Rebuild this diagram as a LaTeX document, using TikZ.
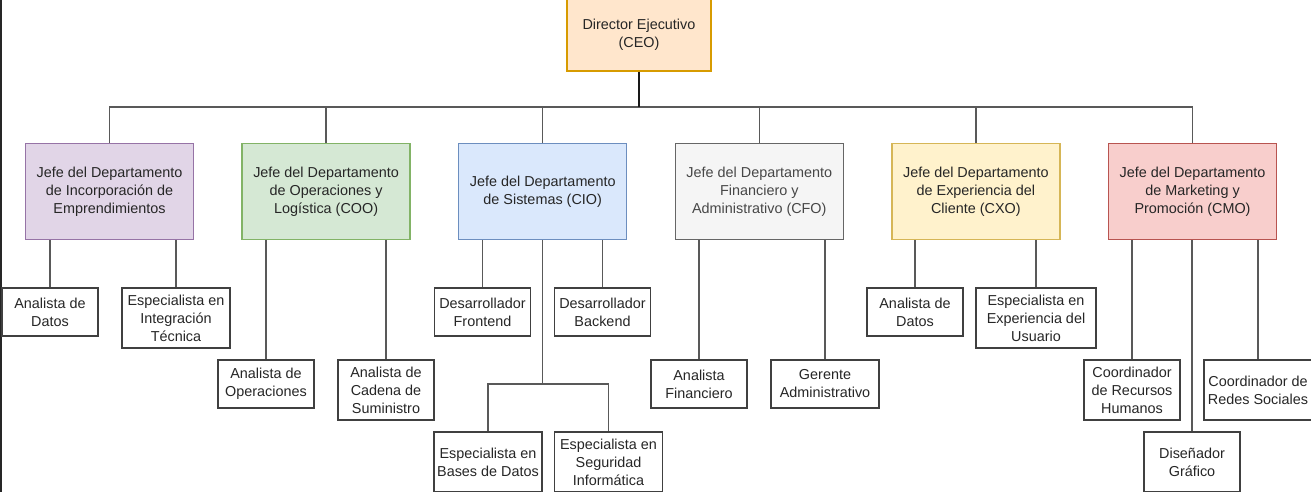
\documentclass[tikz,border=0pt]{standalone}
\usepackage{fontspec}
\setmainfont{Liberation Sans}
\definecolor{ceofill}{HTML}{FFE6CC}
\definecolor{ceoline}{HTML}{D79B00}
\definecolor{purplefill}{HTML}{E1D5E7}
\definecolor{purpleline}{HTML}{9673A6}
\definecolor{greenfill}{HTML}{D5E8D4}
\definecolor{greenline}{HTML}{82B366}
\definecolor{bluefill}{HTML}{DAE8FC}
\definecolor{blueline}{HTML}{6C8EBF}
\definecolor{greyfill}{HTML}{F5F5F5}
\definecolor{greyline}{HTML}{666666}
\definecolor{yellowfill}{HTML}{FFF2CC}
\definecolor{yellowline}{HTML}{D6B656}
\definecolor{redfill}{HTML}{F8CECC}
\definecolor{redline}{HTML}{B85450}
\begin{document}
\begin{tikzpicture}[
  x = 1pt, y = -1pt,
  box/.style    = {rectangle, draw, line width = 1.3pt, align = center, inner sep = 2pt, text = black!85, font = \fontsize{14.4}{18}\selectfont},
  jefe/.style   = {box, minimum width = 168pt, minimum height = 96pt},
  puesto/.style = {box, draw = black!75, fill = white, minimum width = 96pt, minimum height = 48pt},
  link/.style   = {draw = black!65, line width = 1.3pt}
]
  \useasboundingbox (0, 0) rectangle (1311, 492);
  \draw[black!85, line width = 1.5pt] (0.75, 0) -- (0.75, 492);

  \node[jefe, fill = ceofill, draw = ceoline, minimum width = 144pt, minimum height = 72pt] (ceo) at (639, 35) {Director Ejecutivo\\(CEO)};

  \node[jefe, fill = purplefill, draw = purpleline] (emp) at (109.5, 191.5) {Jefe del Departamento\\de Incorporación de\\Emprendimientos};
  \node[jefe, fill = greenfill,  draw = greenline]  (coo) at (326.1, 191.5) {Jefe del Departamento\\de Operaciones y\\Logística (COO)};
  \node[jefe, fill = bluefill,   draw = blueline]   (cio) at (542.7, 191.5) {Jefe del Departamento\\de Sistemas (CIO)};
  \node[jefe, fill = greyfill,   draw = greyline, text = black!72] (cfo) at (759.3, 191.5) {Jefe del Departamento\\Financiero y\\Administrativo (CFO)};
  \node[jefe, fill = yellowfill, draw = yellowline] (cxo) at (975.9, 191.5) {Jefe del Departamento\\de Experiencia del\\Cliente (CXO)};
  \node[jefe, fill = redfill,    draw = redline]    (cmo) at (1192.5, 191.5) {Jefe del Departamento\\de Marketing y\\Promoción (CMO)};

  \node[puesto]                                               (datos1)  at (50,    312) {Analista de\\Datos};
  \node[puesto, minimum width = 108pt, minimum height = 60pt] (integ)   at (176,   318) {Especialista en\\Integración\\Técnica};
  \node[puesto]                                               (oper)    at (266,   384) {Analista de\\Operaciones};
  \node[puesto, minimum height = 60pt]                        (cadena)  at (386,   390) {Analista de\\Cadena de\\Suministro};
  \node[puesto]                                               (front)   at (482.5, 312) {Desarrollador\\Frontend};
  \node[puesto]                                               (back)    at (602.5, 312) {Desarrollador\\Backend};
  \node[puesto, minimum width = 108pt, minimum height = 60pt] (bases)   at (488,   462) {Especialista en\\Bases de Datos};
  \node[puesto, minimum width = 108pt, minimum height = 60pt] (segur)   at (608.5, 462) {Especialista en\\Seguridad\\Informática};
  \node[puesto]                                               (finan)   at (699,   384) {Analista\\Financiero};
  \node[puesto, minimum width = 108pt]                        (gerente) at (825,   384) {Gerente\\Administrativo};
  \node[puesto]                                               (datos2)  at (915,   312) {Analista de\\Datos};
  \node[puesto, minimum width = 120pt, minimum height = 60pt] (ux)      at (1036,  318) {Especialista en\\Experiencia del\\Usuario};
  \node[puesto, minimum height = 60pt]                        (rrhh)    at (1132,  390) {Coordinador\\de Recursos\\Humanos};
  \node[puesto, minimum height = 60pt]                        (disenio) at (1192,  462) {Diseñador\\Gráfico};
  \node[puesto, minimum width = 108pt, minimum height = 60pt] (redes)   at (1258,  390) {Coordinador de\\Redes Sociales};

  \coordinate (bus) at (639, 107);
  \draw[link] (emp.north) |- (bus) -| (cmo.north);
  \foreach \j in {coo, cio, cfo, cxo}
    \draw[link] (\j.north) -- (\j.north |- bus);
  \draw[link, draw = black!90, line width = 1.6pt] (ceo.south) -- (bus);

  \foreach \p/\c in {emp/datos1, emp/integ, coo/oper, coo/cadena, cio/front, cio/back, cfo/finan, cfo/gerente, cxo/datos2, cxo/ux, cmo/rrhh, cmo/disenio, cmo/redes}
    \draw[link] (\p.south -| \c.north) -- (\c.north);

  \coordinate (ciobus) at (542.7, 384);
  \draw[link] (cio.south) -- (ciobus);
  \draw[link] (bases.north) |- (ciobus) -| (segur.north);
\end{tikzpicture}
\end{document}
